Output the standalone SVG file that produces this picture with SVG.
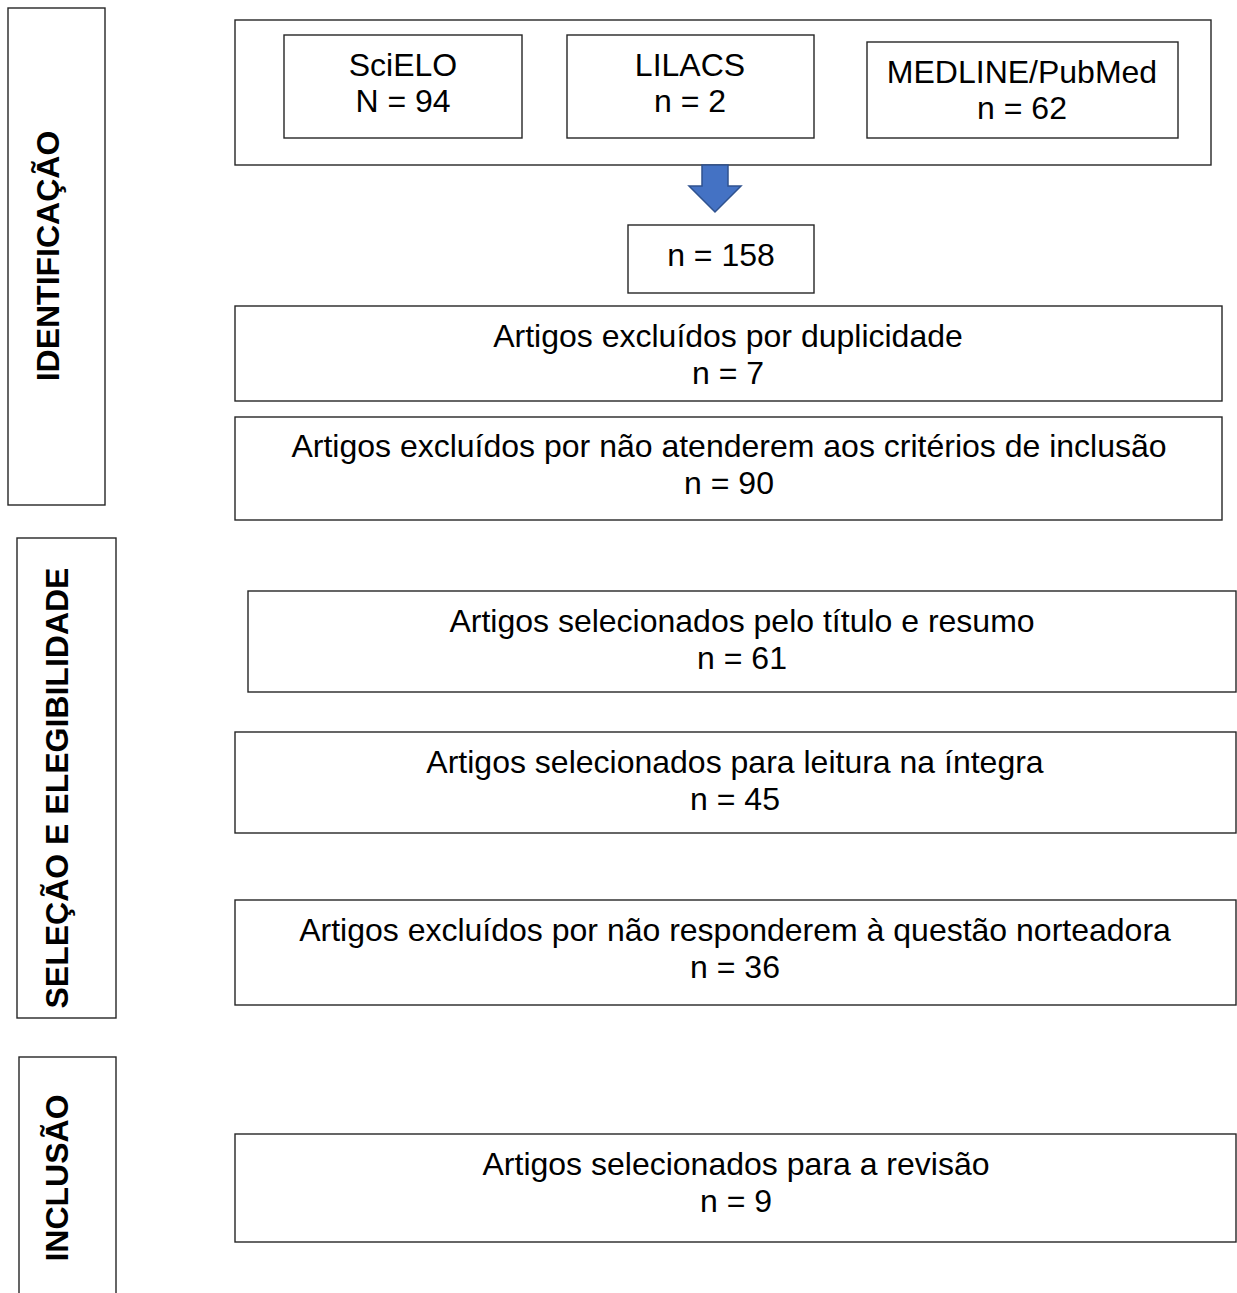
<svg xmlns="http://www.w3.org/2000/svg" width="1237" height="1293" viewBox="0 0 1237 1293">
<style>
.box{fill:#fff;stroke:#262626;stroke-width:1.4}
.t{font-family:"Liberation Sans",Arial,sans-serif;font-size:32px;fill:#000;text-anchor:middle}
.side{font-family:"Liberation Sans",Arial,sans-serif;font-size:32px;font-weight:bold;fill:#000;text-anchor:middle}
</style>
<rect width="1237" height="1293" fill="#fff"/>
<g id="side-identificacao"><rect class="box" x="8" y="8" width="97" height="497"/><text class="side" transform="translate(59,256) rotate(-90)">IDENTIFICAÇÃO</text></g>
<g id="side-selecao"><rect class="box" x="17" y="538" width="99" height="480"/><text class="side" transform="translate(68,788) rotate(-90)">SELEÇÃO E ELEGIBILIDADE</text></g>
<g id="side-inclusao"><rect class="box" x="19" y="1057" width="97" height="250"/><text class="side" transform="translate(68,1178) rotate(-90)">INCLUSÃO</text></g>
<g id="sources"><rect class="box" x="235" y="20" width="976" height="145"/></g>
<g id="scielo"><rect class="box" x="284" y="35" width="238" height="103"/><text class="t" x="403" y="76">SciELO</text><text class="t" x="403" y="112">N = 94</text></g>
<g id="lilacs"><rect class="box" x="567" y="35" width="247" height="103"/><text class="t" x="690" y="76">LILACS</text><text class="t" x="690" y="112">n = 2</text></g>
<g id="medline"><rect class="box" x="867" y="42" width="311" height="96"/><text class="t" x="1022" y="83">MEDLINE/PubMed</text><text class="t" x="1022" y="119">n = 62</text></g>
<g id="connectors"><path d="M702,165 L728,165 L728,186 L741,186 L715,212 L689,186 L702,186 Z" fill="#4472C4" stroke="#2F528F" stroke-width="1.5" stroke-linejoin="miter"/></g>
<g id="total"><rect class="box" x="628" y="225" width="186" height="68"/><text class="t" x="721" y="266">n = 158</text></g>
<g id="duplicidade"><rect class="box" x="235" y="306" width="987" height="95"/><text class="t" x="728" y="347">Artigos excluídos por duplicidade</text><text class="t" x="728" y="384">n = 7</text></g>
<g id="criterios"><rect class="box" x="235" y="417" width="987" height="103"/><text class="t" x="729" y="457">Artigos excluídos por não atenderem aos critérios de inclusão</text><text class="t" x="729" y="494">n = 90</text></g>
<g id="titulo"><rect class="box" x="248" y="591" width="988" height="101"/><text class="t" x="742" y="632">Artigos selecionados pelo título e resumo</text><text class="t" x="742" y="669">n = 61</text></g>
<g id="leitura"><rect class="box" x="235" y="732" width="1001" height="101"/><text class="t" x="735" y="773">Artigos selecionados para leitura na íntegra</text><text class="t" x="735" y="810">n = 45</text></g>
<g id="questao"><rect class="box" x="235" y="900" width="1001" height="105"/><text class="t" x="735" y="941">Artigos excluídos por não responderem à questão norteadora</text><text class="t" x="735" y="978">n = 36</text></g>
<g id="revisao"><rect class="box" x="235" y="1134" width="1001" height="108"/><text class="t" x="736" y="1175">Artigos selecionados para a revisão</text><text class="t" x="736" y="1212">n = 9</text></g>
</svg>
